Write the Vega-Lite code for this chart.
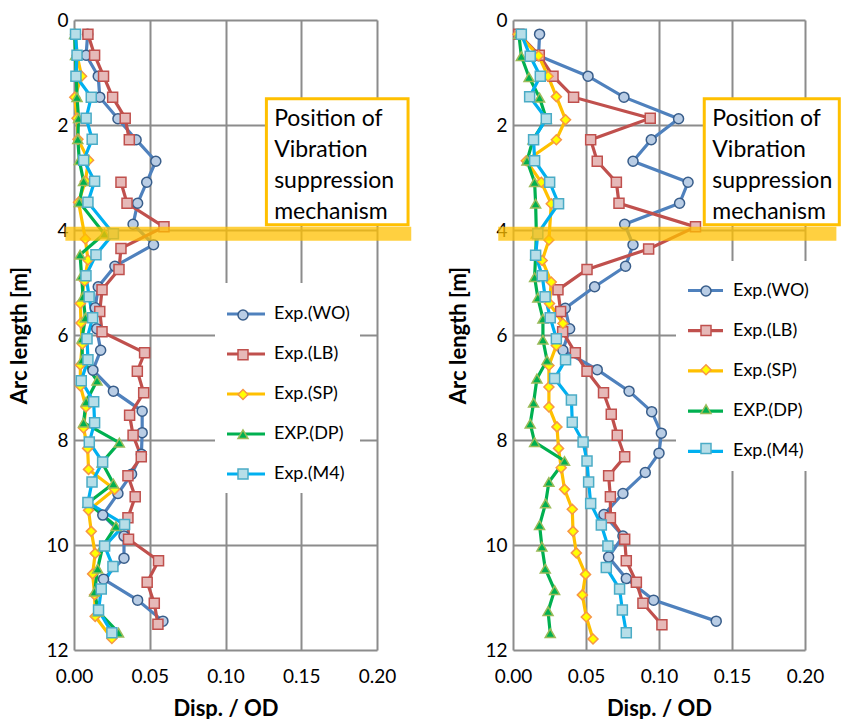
{
  "$schema": "https://vega.github.io/schema/vega-lite/v6.json",
  "background": "white",
  "padding": {"left": 8, "top": 11, "right": 0, "bottom": 0},
  "bounds": "flush",
  "spacing": 136,
  "config": {
    "view": {"stroke": null},
    "font": "Lato",
    "axis": {
      "grid": true, "gridColor": "#8c8c8c", "gridWidth": 2, "domain": false, "ticks": false, "tickSize": 0, "labelFlush": false,
      "labelFont": "Lato", "labelFontSize": 19, "labelColor": "black",
      "titleFont": "Lato", "titleFontSize": 22, "titleFontWeight": "bold", "titleColor": "black"
    }
  },
  "datasets": {
    "pts": [
      {"p":"L","s":"Exp.(WO)","m":1,"g":1,"a":[0.27,0.67,1.07,1.47,1.88,2.28,2.69,3.09,3.49,3.89,4.28,4.69,5.08,5.48,5.88,6.29,6.67,7.07,7.45,7.86,8.27,8.65,9.02,9.43,9.83,10.25,10.65,11.05,11.45],"d":[0.009,0.008,0.016,0.017,0.029,0.041,0.054,0.048,0.042,0.039,0.0525,0.027,0.016,0.014,0.015,0.0176,0.0125,0.026,0.045,0.045,0.0445,0.038,0.029,0.019,0.033,0.033,0.0195,0.042,0.0587]},
      {"p":"L","s":"Exp.(LB)","m":2,"g":1,"a":[0.27,0.67,1.07,1.47,1.87,2.28],"d":[0.0092,0.0136,0.0195,0.0255,0.0338,0.0365]},
      {"p":"L","s":"Exp.(LB)","m":2,"g":2,"a":[3.09,3.49,3.94,4.35,4.75,5.14,5.55,5.94,6.34,6.69,7.1,7.53,7.91,8.32,8.68,9.08,9.48,9.89,10.3,10.71,11.11,11.51],"d":[0.031,0.035,0.0594,0.031,0.0297,0.0185,0.017,0.0185,0.0466,0.0418,0.046,0.0367,0.039,0.0444,0.0356,0.0404,0.0356,0.036,0.0558,0.0483,0.053,0.0554]},
      {"p":"L","s":"Exp.(SP)","m":3,"g":1,"a":[0.27,0.67,1.07,1.47,1.87,2.27,2.67,3.07,3.47,4.17,4.57,4.97,5.4,5.77,6.17,6.57,6.97,7.37,7.77,8.16,8.56,8.94,9.34,9.74,10.16,10.55,10.95,11.36,11.78],"d":[0.001,0.002,0.005,0.0005,0.002,0.0026,0.0096,0.0075,0.003,0.0075,0.0092,0.007,0.0042,0.0046,0.0055,0.0042,0.0042,0.0079,0.0063,0.009,0.0096,0.0268,0.0096,0.0114,0.014,0.0123,0.0136,0.014,0.025]},
      {"p":"L","s":"EXP.(DP)","m":4,"g":1,"a":[0.27,0.67,1.07,1.47,1.87,2.27,2.67,3.07,3.47,4.07,4.47,4.87,5.27,5.67,6.07,6.47,6.87,7.27,7.67,8.05,8.43,8.83,9.2,9.64,10.02,10.45,10.89,11.27,11.67],"d":[0.0004,0.001,0.0015,0.002,0.003,0.0025,0.0035,0.0063,0.0035,0.02,0.004,0.005,0.006,0.0075,0.0053,0.0055,0.0152,0.008,0.0063,0.0299,0.0185,0.026,0.0092,0.0277,0.019,0.0156,0.0136,0.016,0.0294]},
      {"p":"L","s":"Exp.(M4)","m":5,"g":1,"a":[0.27,0.67,1.07,1.47,1.87,2.27,2.67,3.07,3.47,4.07,4.47,4.87,5.27,5.67,6.07,6.47,6.87,7.27,7.67,8.04,8.42,8.8,9.19,9.61,10.02,10.41,10.84,11.24,11.67],"d":[0.001,0.002,0.0013,0.0114,0.008,0.012,0.0064,0.0136,0.0092,0.026,0.0145,0.0079,0.01,0.0123,0.0086,0.0092,0.0048,0.013,0.0136,0.0101,0.0189,0.0119,0.0092,0.0334,0.0202,0.0257,0.018,0.0162,0.025]},
      {"p":"R","s":"Exp.(WO)","m":1,"g":1,"a":[0.27,0.68,1.07,1.47,1.88,2.28,2.69,3.09,3.49,3.89,4.28,4.69,5.08,5.49,5.88,6.29,6.66,7.07,7.46,7.87,8.25,8.62,9.02,9.42,9.83,10.23,10.64,11.05,11.45],"d":[0.0182,0.0175,0.0514,0.076,0.1134,0.0947,0.0822,0.1199,0.1141,0.0765,0.0822,0.0771,0.0559,0.0358,0.0388,0.0342,0.0577,0.0795,0.095,0.1016,0.1,0.0906,0.0753,0.0623,0.0753,0.0655,0.0776,0.0963,0.1392]},
      {"p":"R","s":"Exp.(LB)","m":2,"g":1,"a":[0.27,0.67,1.07,1.47,1.87,2.28,2.69,3.09,3.49,3.94,4.36,4.75,5.14,5.55,5.94,6.34,6.69,7.1,7.51,7.91,8.32,8.68,9.08,9.48,9.89,10.3,10.71,11.11,11.52],"d":[0.004,0.018,0.0274,0.0415,0.094,0.0532,0.0577,0.0708,0.0726,0.125,0.0929,0.0507,0.0308,0.0326,0.034,0.0427,0.0507,0.062,0.0673,0.0714,0.0765,0.0655,0.0667,0.0667,0.0765,0.0776,0.0845,0.089,0.102]},
      {"p":"R","s":"Exp.(SP)","m":3,"g":1,"a":[0.27,0.68,1.07,1.46,1.9,2.28,2.68,3.09,3.5,4.19,4.58,4.99,5.4,5.78,6.2,6.58,6.99,7.37,7.75,8.16,8.53,8.94,9.32,9.74,10.15,10.56,10.95,11.37,11.79],"d":[0.0034,0.0175,0.024,0.0297,0.036,0.0297,0.0091,0.0194,0.0262,0.0246,0.02,0.0262,0.025,0.0342,0.0297,0.0246,0.0246,0.0246,0.0301,0.0312,0.033,0.0353,0.0406,0.0411,0.0434,0.0497,0.0475,0.0502,0.0548]},
      {"p":"R","s":"EXP.(DP)","m":4,"g":1,"a":[0.27,0.69,1.09,1.48,1.88,2.28,2.68,3.09,3.5,4.07,4.48,4.9,5.29,5.69,6.09,6.48,6.83,7.29,7.69,8.04,8.4,8.8,9.21,9.62,10.03,10.45,10.86,11.26,11.68],"d":[0.004,0.0057,0.011,0.0182,0.0228,0.0137,0.0096,0.0148,0.0155,0.016,0.0155,0.0148,0.017,0.0205,0.0205,0.0233,0.0164,0.0141,0.0118,0.0148,0.0353,0.0246,0.0223,0.0182,0.0198,0.0221,0.0285,0.024,0.0255]},
      {"p":"R","s":"Exp.(M4)","m":5,"g":1,"a":[0.27,0.69,1.07,1.46,1.88,2.28,2.68,3.09,3.5,4.07,4.48,4.87,5.27,5.67,6.07,6.47,6.83,7.24,7.66,8.04,8.4,8.8,9.21,9.62,10.02,10.43,10.84,11.24,11.67],"d":[0.0057,0.0118,0.0187,0.0114,0.0228,0.0141,0.0148,0.0251,0.0312,0.017,0.0155,0.02,0.022,0.0255,0.0297,0.036,0.0285,0.04,0.0406,0.048,0.0507,0.0518,0.0532,0.0605,0.065,0.0639,0.073,0.0749,0.0776]}
    ]
  },
  "resolve": {
    "scale": {"color": "independent", "fill": "independent", "stroke": "independent", "shape": "independent"},
    "legend": {"color": "independent", "fill": "independent", "stroke": "independent", "shape": "independent"}
  },
  "hconcat": [
    {
      "width": 303, "height": 630,
      "layer": [
        {
          "data": {"name": "pts"},
          "transform": [{"flatten": ["a", "d"]}, {"filter": "datum.p == 'L'"}],
          "mark": {"type": "line", "strokeWidth": 3.2},
          "encoding": {
            "x": {"field": "d", "type": "quantitative", "scale": {"domain": [0, 0.2], "nice": false, "zero": false}, "axis": {"values": [0, 0.05, 0.1, 0.15, 0.2], "format": ".2f", "labelPadding": 17, "titlePadding": 12}, "title": "Disp. / OD"},
            "y": {"field": "a", "type": "quantitative", "scale": {"domain": [0, 12], "reverse": true, "nice": false, "zero": false}, "axis": {"values": [0, 2, 4, 6, 8, 10, 12], "labelPadding": 6, "titlePadding": 14}, "title": "Arc length [m]"},
            "color": {"field": "s", "type": "nominal", "scale": {"domain": ["Exp.(WO)", "Exp.(LB)", "Exp.(SP)", "EXP.(DP)", "Exp.(M4)"], "range": ["#4F81BD", "#C0504D", "#FFC000", "#00B050", "#00B0F0"]},
              "legend": {"title": null, "orient": "none", "legendX": 141, "legendY": 263, "gridAlign": "all", "symbolType": "stroke", "symbolSize": 1444, "symbolStrokeWidth": 3.2, "labelFont": "Lato", "labelFontSize": 18, "labelColor": "black", "labelOffset": 7, "labelLimit": 0, "fillColor": "white", "padding": 10, "rowPadding": 10}},
            "detail": {"field": "g", "type": "nominal"},
            "order": {"field": "a", "type": "quantitative"}
          }
        },
        {
          "data": {"name": "pts"},
          "transform": [{"flatten": ["a", "d"]}, {"filter": "datum.p == 'L'"}],
          "mark": {"type": "point", "filled": true, "size": 100, "strokeWidth": 1.5, "opacity": 1},
          "encoding": {
            "x": {"field": "d", "type": "quantitative", "scale": {"domain": [0, 0.2], "nice": false, "zero": false}},
            "y": {"field": "a", "type": "quantitative", "scale": {"domain": [0, 12], "reverse": true, "nice": false, "zero": false}},
            "shape": {"field": "m", "type": "nominal", "scale": {"domain": [1, 2, 3, 4, 5], "range": ["circle", "square", "diamond", "triangle-up", "square"]},
              "legend": {"title": null, "orient": "none", "legendX": 163, "legendY": 289, "gridAlign": "all", "symbolSize": 100, "symbolStrokeWidth": 1.5, "symbolOpacity": 1, "labelExpr": "''", "labelFontSize": 1, "padding": 0, "rowPadding": 23.75}},
            "fill": {"field": "m", "type": "nominal", "scale": {"domain": [1, 2, 3, 4, 5], "range": ["#B9CDE5", "#E6B9B8", "#FFFF00", "#00B050", "#B7DEE8"]},
              "legend": {"title": null, "orient": "none", "legendX": 163, "legendY": 289, "gridAlign": "all", "symbolSize": 100, "symbolStrokeWidth": 1.5, "symbolOpacity": 1, "labelExpr": "''", "labelFontSize": 1, "padding": 0, "rowPadding": 23.75}},
            "stroke": {"field": "m", "type": "nominal", "scale": {"domain": [1, 2, 3, 4, 5], "range": ["#385D8A", "#C0504D", "#F79646", "#9BBB59", "#4BACC6"]},
              "legend": {"title": null, "orient": "none", "legendX": 163, "legendY": 289, "gridAlign": "all", "symbolSize": 100, "symbolStrokeWidth": 1.5, "symbolOpacity": 1, "labelExpr": "''", "labelFontSize": 1, "padding": 0, "rowPadding": 23.75}}
          }
        },
        {
          "data": {"values": [{"x1": -0.0057, "x2": 0.2226, "y": 4.07}]},
          "mark": {"type": "rule", "strokeWidth": 14, "color": "#FFC000", "opacity": 0.75},
          "encoding": {
            "x": {"field": "x1", "type": "quantitative", "scale": {"domain": [0, 0.2], "nice": false, "zero": false}},
            "x2": {"field": "x2"},
            "y": {"field": "y", "type": "quantitative", "scale": {"domain": [0, 12], "reverse": true, "nice": false, "zero": false}}
          }
        },
        {
          "data": {"values": [{"x1": 0.127, "x2": 0.2205, "y1": 1.5, "y2": 3.9}]},
          "mark": {"type": "rect", "fill": "white", "stroke": "#FFC000", "strokeWidth": 3},
          "encoding": {
            "x": {"field": "x1", "type": "quantitative", "scale": {"domain": [0, 0.2], "nice": false, "zero": false}},
            "x2": {"field": "x2"},
            "y": {"field": "y1", "type": "quantitative", "scale": {"domain": [0, 12], "reverse": true, "nice": false, "zero": false}},
            "y2": {"field": "y2"}
          }
        },
        {
          "data": {"values": [{"t": "Position of", "x": 0.1321, "y": 1.884}, {"t": "Vibration", "x": 0.1321, "y": 2.474}, {"t": "suppression", "x": 0.1321, "y": 3.064}, {"t": "mechanism", "x": 0.1321, "y": 3.654}]},
          "mark": {"type": "text", "align": "left", "baseline": "middle", "font": "Lato", "fontSize": 23, "color": "black"},
          "encoding": {
            "x": {"field": "x", "type": "quantitative", "scale": {"domain": [0, 0.2], "nice": false, "zero": false}},
            "y": {"field": "y", "type": "quantitative", "scale": {"domain": [0, 12], "reverse": true, "nice": false, "zero": false}},
            "text": {"field": "t"}
          }
        }
      ]
    },
    {
      "width": 292, "height": 630,
      "layer": [
        {
          "data": {"name": "pts"},
          "transform": [{"flatten": ["a", "d"]}, {"filter": "datum.p == 'R'"}],
          "mark": {"type": "line", "strokeWidth": 3.2},
          "encoding": {
            "x": {"field": "d", "type": "quantitative", "scale": {"domain": [0, 0.2], "nice": false, "zero": false}, "axis": {"values": [0, 0.05, 0.1, 0.15, 0.2], "format": ".2f", "labelPadding": 17, "titlePadding": 12}, "title": "Disp. / OD"},
            "y": {"field": "a", "type": "quantitative", "scale": {"domain": [0, 12], "reverse": true, "nice": false, "zero": false}, "axis": {"values": [0, 2, 4, 6, 8, 10, 12], "labelPadding": 6, "titlePadding": 14}, "title": "Arc length [m]"},
            "color": {"field": "s", "type": "nominal", "scale": {"domain": ["Exp.(WO)", "Exp.(LB)", "Exp.(SP)", "EXP.(DP)", "Exp.(M4)"], "range": ["#4F81BD", "#C0504D", "#FFC000", "#00B050", "#00B0F0"]},
              "legend": {"title": null, "orient": "none", "legendX": 163, "legendY": 241, "gridAlign": "all", "symbolType": "stroke", "symbolSize": 1225, "symbolStrokeWidth": 3.2, "labelFont": "Lato", "labelFontSize": 18, "labelColor": "black", "labelOffset": 8, "labelLimit": 0, "fillColor": "white", "padding": 10, "rowPadding": 11.2}},
            "detail": {"field": "g", "type": "nominal"},
            "order": {"field": "a", "type": "quantitative"}
          }
        },
        {
          "data": {"name": "pts"},
          "transform": [{"flatten": ["a", "d"]}, {"filter": "datum.p == 'R'"}],
          "mark": {"type": "point", "filled": true, "size": 100, "strokeWidth": 1.5, "opacity": 1},
          "encoding": {
            "x": {"field": "d", "type": "quantitative", "scale": {"domain": [0, 0.2], "nice": false, "zero": false}},
            "y": {"field": "a", "type": "quantitative", "scale": {"domain": [0, 12], "reverse": true, "nice": false, "zero": false}},
            "shape": {"field": "m", "type": "nominal", "scale": {"domain": [1, 2, 3, 4, 5], "range": ["circle", "square", "diamond", "triangle-up", "square"]},
              "legend": {"title": null, "orient": "none", "legendX": 187, "legendY": 265, "gridAlign": "all", "symbolSize": 100, "symbolStrokeWidth": 1.5, "symbolOpacity": 1, "labelExpr": "''", "labelFontSize": 1, "padding": 0, "rowPadding": 23.4}},
            "fill": {"field": "m", "type": "nominal", "scale": {"domain": [1, 2, 3, 4, 5], "range": ["#B9CDE5", "#E6B9B8", "#FFFF00", "#00B050", "#B7DEE8"]},
              "legend": {"title": null, "orient": "none", "legendX": 187, "legendY": 265, "gridAlign": "all", "symbolSize": 100, "symbolStrokeWidth": 1.5, "symbolOpacity": 1, "labelExpr": "''", "labelFontSize": 1, "padding": 0, "rowPadding": 23.4}},
            "stroke": {"field": "m", "type": "nominal", "scale": {"domain": [1, 2, 3, 4, 5], "range": ["#385D8A", "#C0504D", "#F79646", "#9BBB59", "#4BACC6"]},
              "legend": {"title": null, "orient": "none", "legendX": 187, "legendY": 265, "gridAlign": "all", "symbolSize": 100, "symbolStrokeWidth": 1.5, "symbolOpacity": 1, "labelExpr": "''", "labelFontSize": 1, "padding": 0, "rowPadding": 23.4}}
          }
        },
        {
          "data": {"values": [{"x1": -0.0101, "x2": 0.2215, "y": 4.07}]},
          "mark": {"type": "rule", "strokeWidth": 14, "color": "#FFC000", "opacity": 0.75},
          "encoding": {
            "x": {"field": "x1", "type": "quantitative", "scale": {"domain": [0, 0.2], "nice": false, "zero": false}},
            "x2": {"field": "x2"},
            "y": {"field": "y", "type": "quantitative", "scale": {"domain": [0, 12], "reverse": true, "nice": false, "zero": false}}
          }
        },
        {
          "data": {"values": [{"x1": 0.131, "x2": 0.2235, "y1": 1.5, "y2": 3.9}]},
          "mark": {"type": "rect", "fill": "white", "stroke": "#FFC000", "strokeWidth": 3},
          "encoding": {
            "x": {"field": "x1", "type": "quantitative", "scale": {"domain": [0, 0.2], "nice": false, "zero": false}},
            "x2": {"field": "x2"},
            "y": {"field": "y1", "type": "quantitative", "scale": {"domain": [0, 12], "reverse": true, "nice": false, "zero": false}},
            "y2": {"field": "y2"}
          }
        },
        {
          "data": {"values": [{"t": "Position of", "x": 0.1365, "y": 1.884}, {"t": "Vibration", "x": 0.1365, "y": 2.474}, {"t": "suppression", "x": 0.1365, "y": 3.064}, {"t": "mechanism", "x": 0.1365, "y": 3.654}]},
          "mark": {"type": "text", "align": "left", "baseline": "middle", "font": "Lato", "fontSize": 23, "color": "black"},
          "encoding": {
            "x": {"field": "x", "type": "quantitative", "scale": {"domain": [0, 0.2], "nice": false, "zero": false}},
            "y": {"field": "y", "type": "quantitative", "scale": {"domain": [0, 12], "reverse": true, "nice": false, "zero": false}},
            "text": {"field": "t"}
          }
        }
      ]
    }
  ]
}
